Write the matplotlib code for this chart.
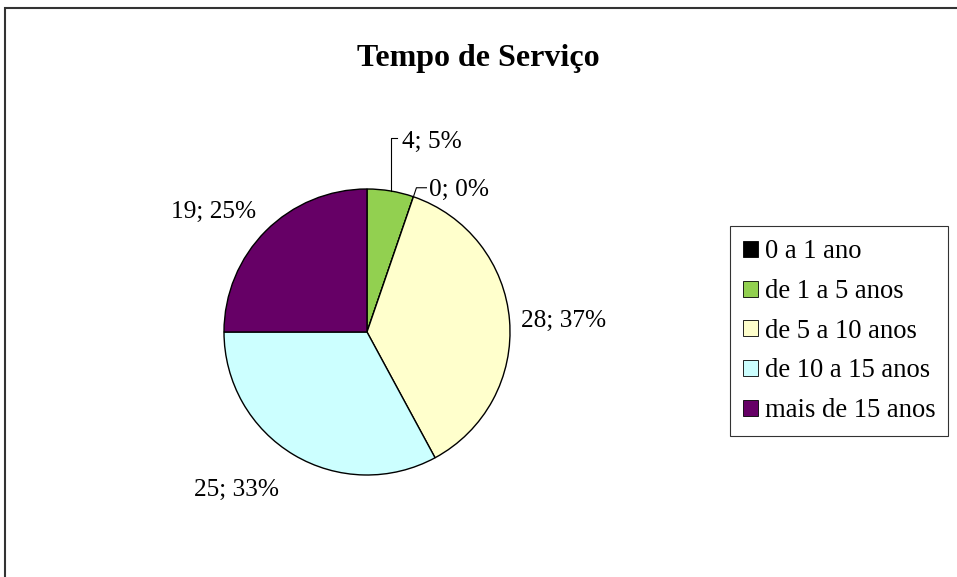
import numpy as np
import matplotlib
matplotlib.use("Agg")
import matplotlib.pyplot as plt
from matplotlib.patches import Patch, Rectangle

# data (legend order)
categories = ["0 a 1 ano", "de 1 a 5 anos", "de 5 a 10 anos", "de 10 a 15 anos", "mais de 15 anos"]
values = [0, 4, 28, 25, 19]
colors = ["#000000", "#92D050", "#FFFFCC", "#CCFFFF", "#660066"]
title = "Tempo de Serviço"

# order the slices are drawn in (clockwise from the top)
draw_order = [1, 0, 2, 3, 4]

W, H = 957, 577
fig = plt.figure(figsize=(W / 100, H / 100), dpi=100)
plt.rcParams["font.family"] = ["Liberation Serif", "DejaVu Serif"]

ax = fig.add_axes([0, 0, 1, 1])
cx, cy, r = 367, H - 332, 143

vals = [values[i] for i in draw_order]
cols = [colors[i] for i in draw_order]
wedges, _ = ax.pie(vals, colors=cols, startangle=90, counterclock=False,
                   center=(cx, cy), radius=r,
                   wedgeprops=dict(edgecolor="black", linewidth=1))
ax.set_xlim(0, W)
ax.set_ylim(0, H)
ax.set_aspect("equal")
ax.axis("off")

total = sum(values)
fs = 18.3
for w, i in zip(wedges, draw_order):
    v = values[i]
    pct = round(100 * v / total)
    txt = f"{v}; {pct}%"
    mid = np.deg2rad((w.theta1 + w.theta2) / 2)
    ex, ey = cx + r * np.cos(mid), cy + r * np.sin(mid)
    if v == 0:
        # leader line for empty slice
        x1, y1 = ex + 3, ey + 9
        ax.plot([ex, x1, x1 + 10], [ey, y1, y1], color="black", lw=0.8)
        ax.text(x1 + 13, y1 - 2, txt, ha="left", va="center", fontsize=fs)
    elif v / total < 0.1:
        y1 = ey + 53
        ax.plot([ex, ex, ex + 6], [ey, y1, y1], color="black", lw=0.8)
        ax.text(ex + 11, y1 - 4, txt, ha="left", va="center", fontsize=fs)
    else:
        if np.cos(mid) > 0.3:
            d, ha, va = 1.08, "left", "center"
            dy = -2
        elif np.sin(mid) < 0:
            d, ha, va = 1.2, "right", "top"
            dy = 0
        else:
            d, ha, va = 1.1, "right", "bottom"
            dy = -2
        ax.text(cx + d * r * np.cos(mid), cy + d * r * np.sin(mid) + dy, txt,
                ha=ha, va=va, fontsize=fs)

fig.text(478 / W, 1 - 66 / H, title, ha="center", va="baseline",
         fontsize=23, fontweight="bold")

handles = [Patch(facecolor=c, edgecolor="black", linewidth=0.6) for c in colors]
leg = fig.legend(handles, categories, loc="upper left",
                 bbox_to_anchor=(730 / W, 1 - 226 / H - 0.01, 218 / W, 0.01),
                 mode="expand", fontsize=19.2,
                 frameon=True, fancybox=False, edgecolor="black",
                 handlelength=0.55, handleheight=0.55, handletextpad=0.28,
                 labelspacing=0.55, borderpad=0.5, borderaxespad=0)
leg.get_frame().set_linewidth(0.8)

# chart area border
fig.patches.append(Rectangle((5 / W, -0.1), 2, 1.1 - 8 / H, transform=fig.transFigure,
                             fill=False, edgecolor="#333333", linewidth=1.5))

fig.savefig("out.png", dpi=100)
